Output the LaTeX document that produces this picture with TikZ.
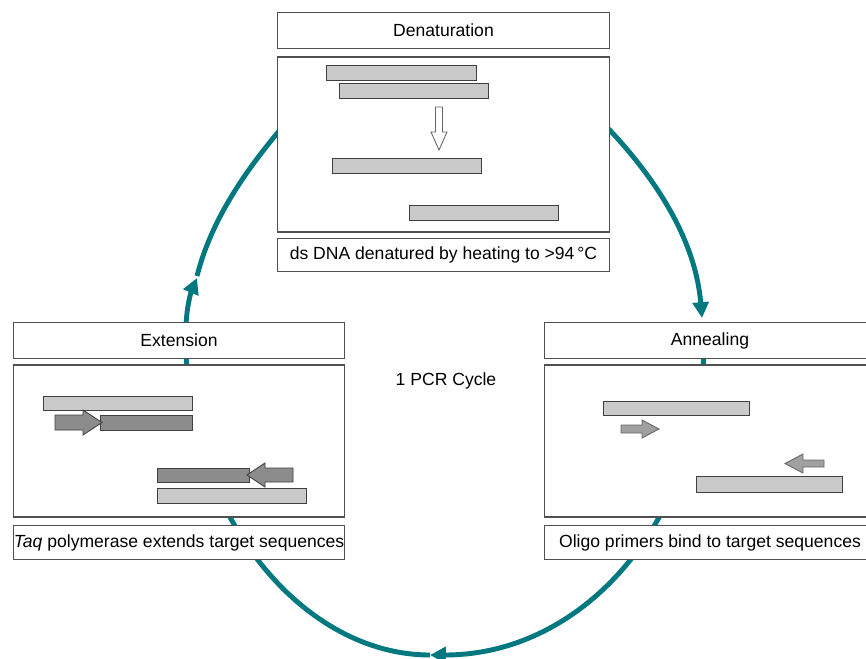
\documentclass[tikz,border=0pt]{standalone}
\usepackage{fontspec}
\setmainfont{Liberation Sans}
\usetikzlibrary{arrows.meta,positioning}
\definecolor{CycTeal}{RGB}{0,120,128}
\definecolor{BoxGray}{RGB}{80,80,80}
\definecolor{BarLight}{RGB}{202,202,202}
\definecolor{BarDark}{RGB}{140,140,140}
\definecolor{PrimerGray}{RGB}{160,160,160}

\begin{document}
\begin{tikzpicture}[x=0.02cm,y=-0.02cm,
  hbox/.style={draw=BoxGray,fill=white,line width=0.6pt,inner sep=0pt,
               minimum width=6.64cm,minimum height=0.72cm,font=\fontsize{10}{12}\selectfont},
  pbox/.style={draw=BoxGray,fill=white,line width=0.6pt,inner sep=0pt,minimum width=6.64cm},
  cbox/.style={draw=BoxGray,fill=white,line width=0.6pt,inner sep=0pt,
               minimum width=6.64cm,minimum height=0.67cm,font=\fontsize{10}{12}\selectfont},
  lbar/.style={draw=black!75,fill=BarLight,line width=0.5pt},
  dbar/.style={draw=black!75,fill=BarDark,line width=0.5pt},
  primer/.style={draw=black!60,fill=PrimerGray,line width=0.5pt},
  cyc/.style={draw=CycTeal,line width=2.8pt},
  cyctip/.style={-{Triangle[length=9pt,width=9pt]}},
]
\useasboundingbox (0,0) rectangle (866,659);

\coordinate (ann-in) at (704,325);
\coordinate (ext-out) at (186,325);
\coordinate (cyc-bot) at (430,655);
\coordinate (ext-tip) at (197,278);
\coordinate (den-left) at (292,116);
\coordinate (den-right) at (598,118);
\coordinate (ann-tip) at (702,318);

\draw[cyc,cyctip] (ann-in) -- (704,340) .. controls (704,514) and (588,655) .. (cyc-bot);
\draw[cyc] (cyc-bot) .. controls (302,655) and (186,514) .. (186,340) -- (ext-out);
\draw[cyc,cyctip] (ext-out) .. controls (187,305) and (191,292) .. (ext-tip);
\draw[cyc] (197,276) .. controls (210,225) and (240,175) .. (den-left);
\draw[cyc,cyctip] (den-right) .. controls (650,170) and (695,235) .. (ann-tip);

\node[hbox] (den-head) at (443.5,30.5) {Denaturation};
\node[pbox,minimum height=3.5cm] (den-panel) at (443.5,144.5) {};
\node[cbox] (den-cap) at (443.5,255) {ds DNA denatured by heating to >94\,°C};

\node[hbox] (ext-head) at (179,340.5) {Extension};
\node[pbox,minimum height=3.04cm] (ext-panel) at (179,441) {};
\node[cbox] (ext-cap) at (179,542.5) {\textit{Taq} polymerase extends target sequences};

\node[hbox] (ann-head) at (710,340.5) {Annealing};
\node[pbox,minimum height=3.04cm] (ann-panel) at (710,441) {};
\node[cbox] (ann-cap) at (710,542.5) {Oligo primers bind to target sequences};

\node[font=\fontsize{10}{12}\selectfont] (cycle) at (446,381) {1 PCR Cycle};

\draw[lbar] (326,65) rectangle (476,80);
\draw[lbar] (339,83) rectangle (488,98);
\draw[draw=black!60,fill=white,line width=0.5pt]
  (435.5,107) -- (442.5,107) -- (442.5,132) -- (447,132) -- (439,150)
  -- (431,132) -- (435.5,132) -- cycle;
\draw[lbar] (332,158) rectangle (481,173);
\draw[lbar] (409,205) rectangle (558,220);

\draw[lbar] (43,396) rectangle (192,410);
\draw[dbar] (100,415) rectangle (192,430);
\draw[dbar] (55,415) -- (83,415) -- (83,410) -- (102,422.5) -- (83,435)
  -- (83,430) -- (55,430) -- cycle;
\draw[dbar] (157,468) rectangle (249,482);
\draw[dbar] (293,468) -- (265,468) -- (265,463) -- (247,475) -- (265,487)
  -- (265,482) -- (293,482) -- cycle;
\draw[lbar] (157,488) rectangle (306,503);

\draw[lbar] (603,401) rectangle (749,415);
\draw[primer] (621,425) -- (642,425) -- (642,420) -- (659,429) -- (642,438)
  -- (642,433) -- (621,433) -- cycle;
\draw[primer] (824,460) -- (803,460) -- (803,454) -- (785,463.5) -- (803,473)
  -- (803,467) -- (824,467) -- cycle;
\draw[lbar] (696,476) rectangle (842,492);
\end{tikzpicture}
\end{document}
